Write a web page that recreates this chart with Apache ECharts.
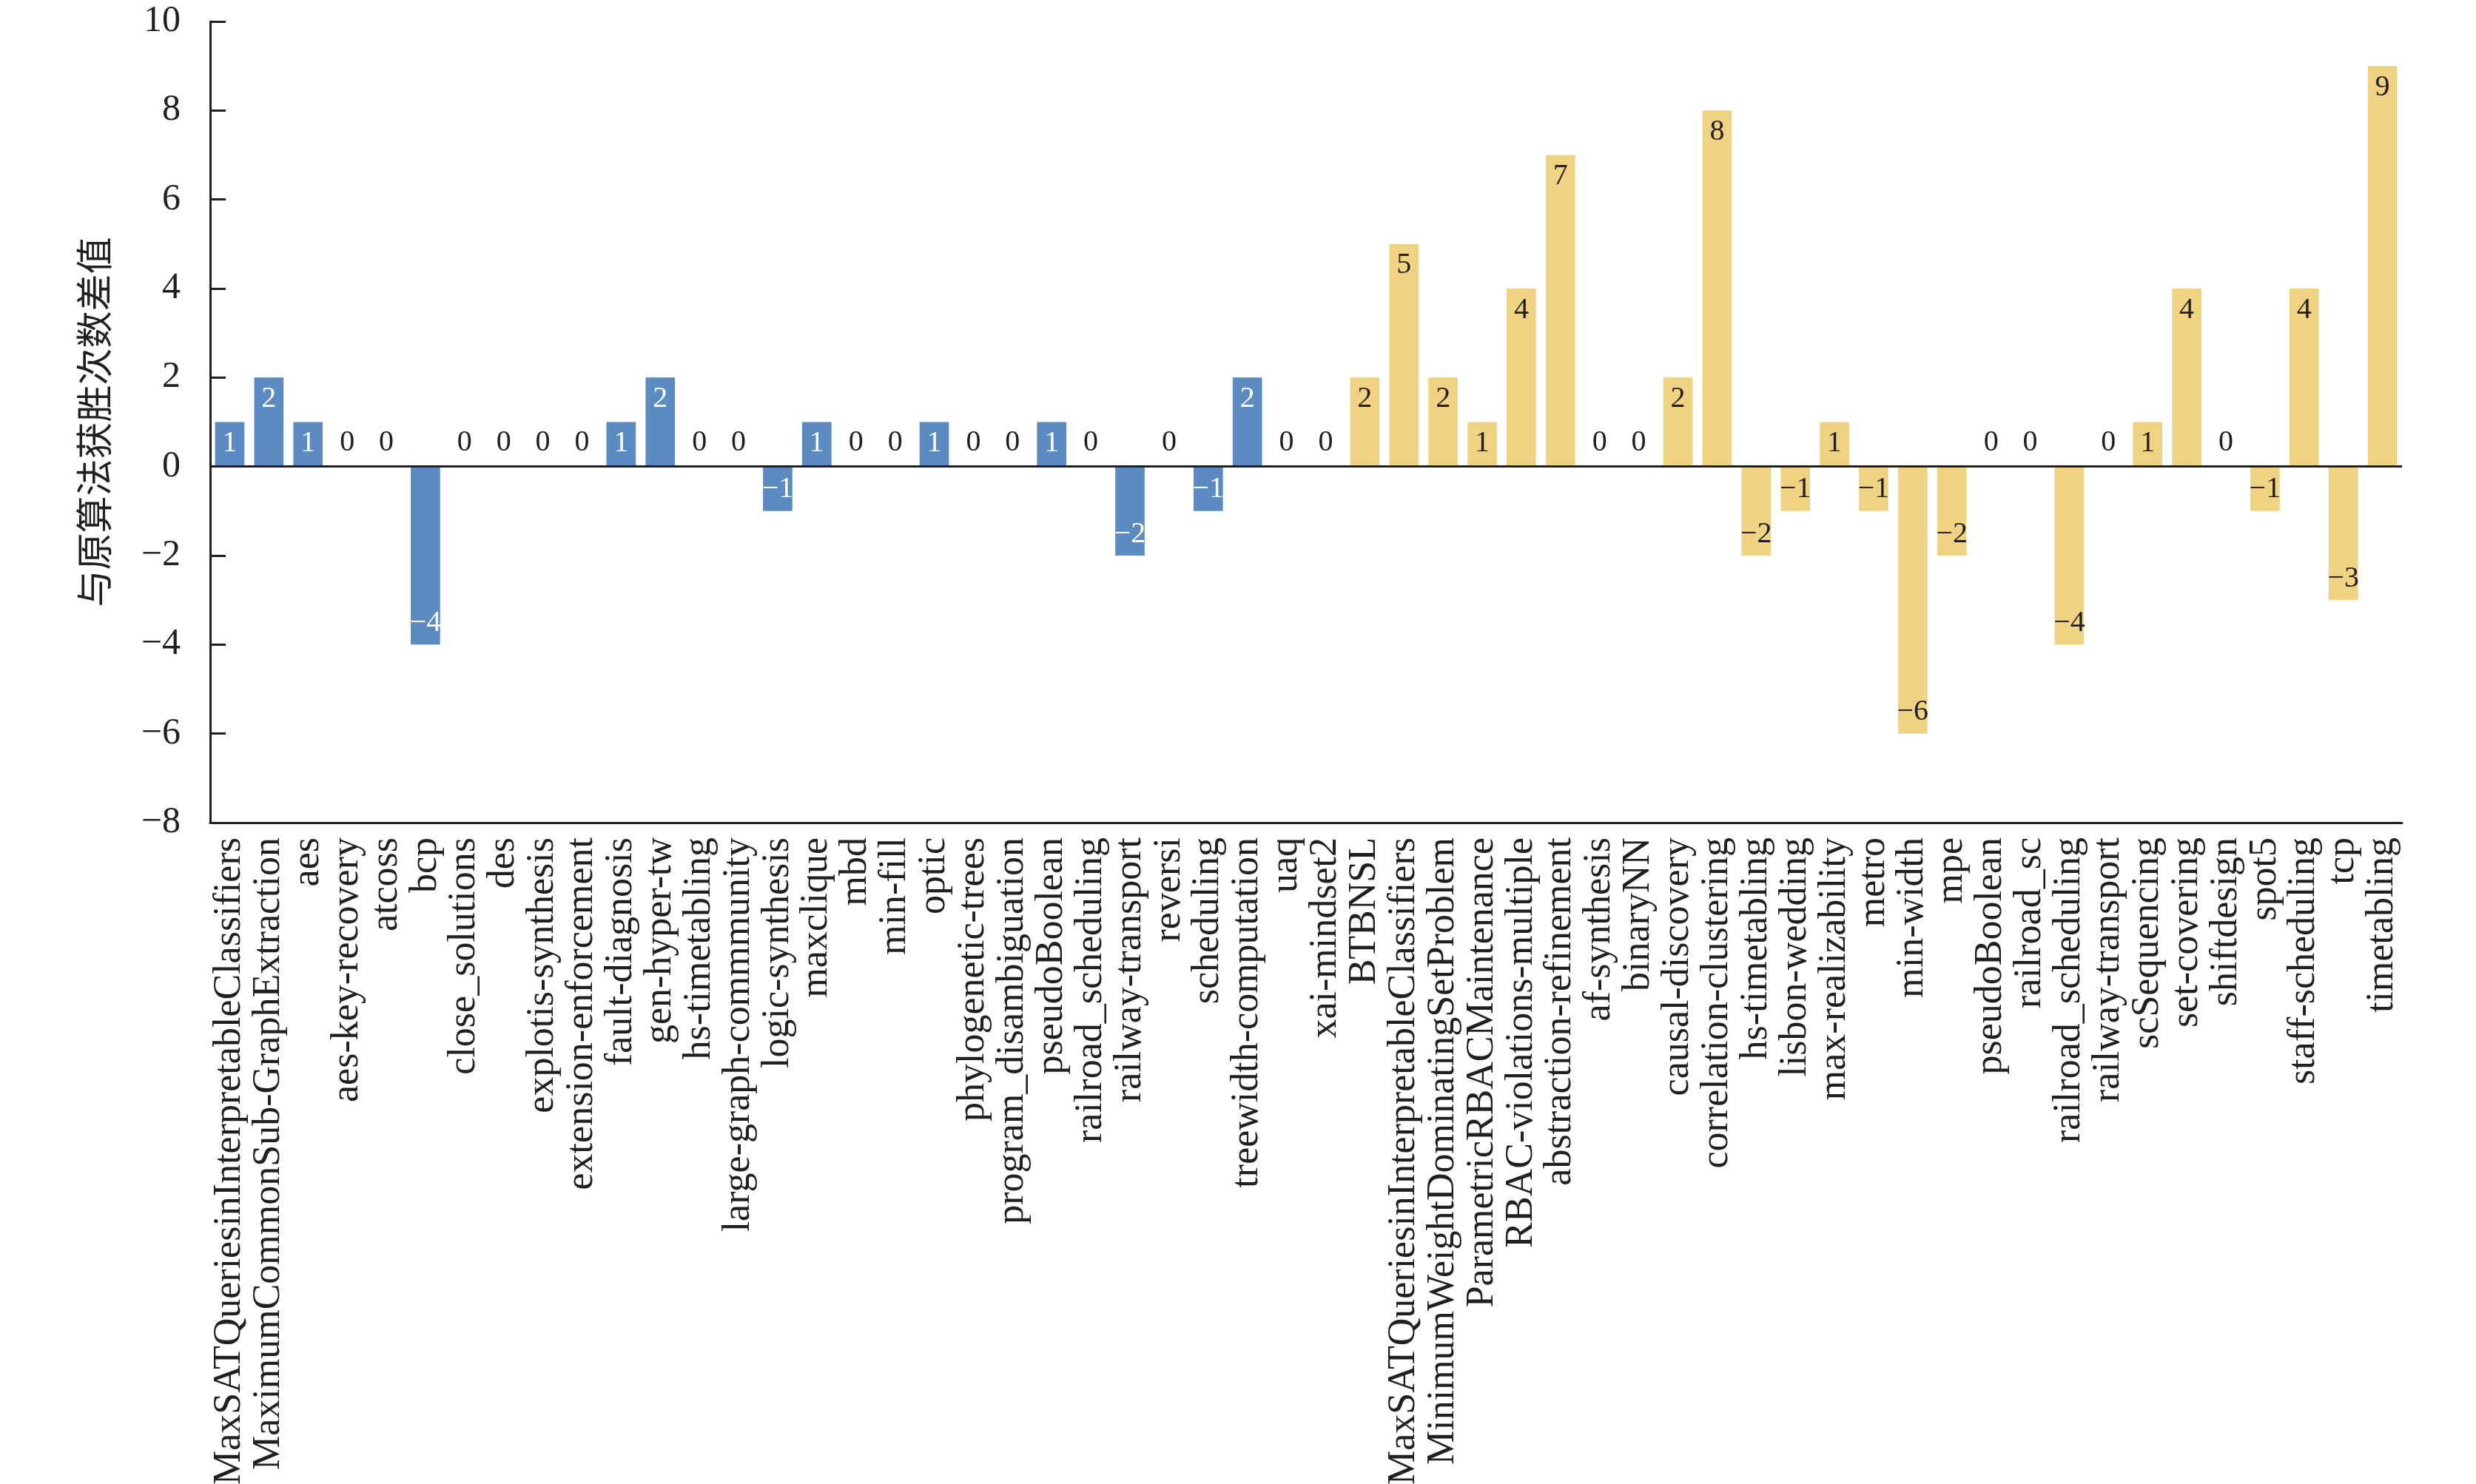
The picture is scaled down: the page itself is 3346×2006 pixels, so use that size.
<!DOCTYPE html>
<html>
<head>
<meta charset="utf-8">
<script src="https://cdn.jsdelivr.net/npm/echarts@6/dist/echarts.min.js"></script>
<style>
html,body{margin:0;padding:0;background:#fff;}
#chart{width:3346px;height:2006px;}
</style>
</head>
<body>
<div id="chart"></div>
<script>
const categories = [
  'MaxSATQueriesinInterpretableClassifiers','MaximumCommonSub-GraphExtraction','aes','aes-key-recovery','atcoss','bcp',
  'close_solutions','des','explotis-synthesis','extension-enforcement','fault-diagnosis','gen-hyper-tw','hs-timetabling',
  'large-graph-commmunity','logic-synthesis','maxclique','mbd','min-fill','optic','phylogenetic-trees','program_disambiguation',
  'pseudoBoolean','railroad_scheduling','railway-transport','reversi','scheduling','treewidth-computation','uaq','xai-mindset2',
  'BTBNSL','MaxSATQueriesinInterpretableClassifiers','MinimumWeightDominatingSetProblem','ParametricRBACMaintenance',
  'RBAC-violations-multiple','abstraction-refinement','af-synthesis','binaryNN','causal-discovery','correlation-clustering',
  'hs-timetabling','lisbon-wedding','max-realizability','metro','min-width','mpe','pseudoBoolean','railroad_sc',
  'railroad_scheduling','railway-transport','scSequencing','set-covering','shiftdesign','spot5','staff-scheduling','tcp','timetabling'
];
const blueValues = [1,2,1,0,0,-4,0,0,0,0,1,2,0,0,-1,1,0,0,1,0,0,1,0,-2,0,-1,2,0,0];
const yellowValues = [2,5,2,1,4,7,0,0,2,8,-2,-1,1,-1,-6,-2,0,0,-4,0,1,4,0,-1,4,-3,9];
const yTicks = {min: -8, max: 10, interval: 2};

const BLUE = '#5b8bc1';
const YELLOW = '#efd383';
const INK = '#231f20';
const SERIF = '"Liberation Serif","Times New Roman",serif';

function makeItem(v, whiteText) {
  return {
    value: v,
    label: {
      position: v > 0 ? 'insideTop' : (v < 0 ? 'insideBottom' : 'top'),
      distance: v === 0 ? 12 : 9,
      color: (whiteText && v !== 0) ? '#ffffff' : INK
    }
  };
}
const nBlue = blueValues.length, nYellow = yellowValues.length;
const blueData = blueValues.map(v => makeItem(v, true)).concat(new Array(nYellow).fill('-'));
const yellowData = new Array(nBlue).fill('-').concat(yellowValues.map(v => makeItem(v, false)));

const fmt = v => String(v).replace('-', '\u2212');

const chart = echarts.init(document.getElementById('chart'), null, {renderer: 'canvas'});
chart.setOption({
  animation: false,
  backgroundColor: '#ffffff',
  grid: {left: 284, top: 29, width: 2962, height: 1083, containLabel: false, outerBoundsMode: 'none'},
  xAxis: {
    type: 'category',
    data: categories,
    boundaryGap: true,
    axisLine: {onZero: false, lineStyle: {color: INK, width: 3}},
    axisTick: {show: false},
    axisLabel: {interval: 0, rotate: 90, margin: 20, fontSize: 52, fontFamily: SERIF, color: INK},
    splitLine: {show: false}
  },
  yAxis: {
    type: 'value',
    min: yTicks.min, max: yTicks.max, interval: yTicks.interval,
    name: '与原算法获胜次数差值',
    nameLocation: 'middle',
    nameRotate: 90,
    nameGap: 132,
    nameTextStyle: {fontSize: 50, fontFamily: '"Noto Sans CJK SC"', color: INK},
    axisLine: {show: true, lineStyle: {color: INK, width: 3}},
    axisTick: {show: true, inside: true, length: 21, lineStyle: {color: INK, width: 3}},
    axisLabel: {margin: 40, fontSize: 50, fontFamily: SERIF, color: INK, formatter: v => fmt(v)},
    splitLine: {show: false}
  },
  series: [
    {
      type: 'bar',
      data: blueData,
      barGap: '-100%',
      barCategoryGap: '25%',
      itemStyle: {color: BLUE},
      label: {show: true, fontSize: 40, fontFamily: SERIF, formatter: p => fmt(p.value)},
      markLine: {
        silent: true,
        symbol: 'none',
        label: {show: false},
        lineStyle: {color: INK, width: 3, type: 'solid'},
        data: [{yAxis: 0}]
      }
    },
    {
      type: 'bar',
      data: yellowData,
      barGap: '-100%',
      barCategoryGap: '25%',
      itemStyle: {color: YELLOW},
      label: {show: true, fontSize: 40, fontFamily: SERIF, formatter: p => fmt(p.value)}
    }
  ]
});
</script>
</body>
</html>
